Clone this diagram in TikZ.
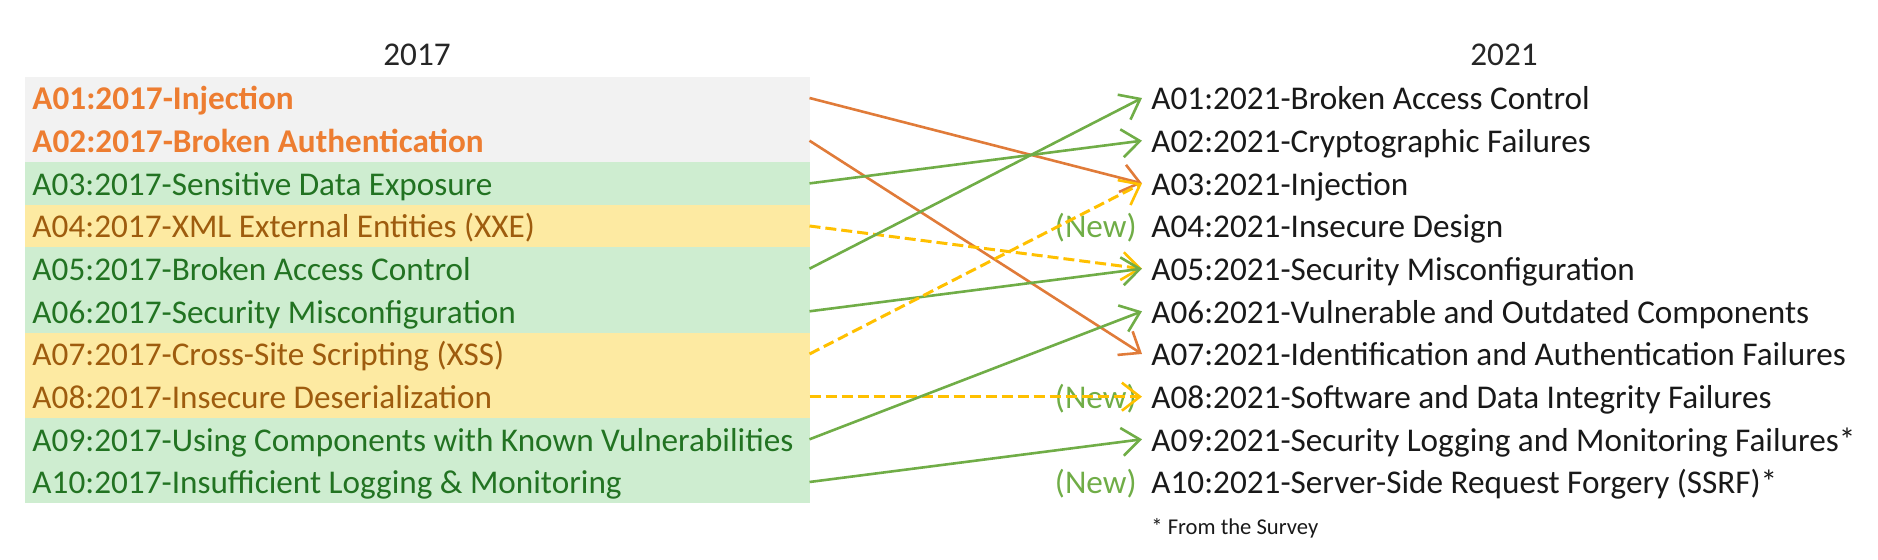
\documentclass[tikz,border=0pt]{standalone}
\usepackage{fontspec}
\setmainfont{Carlito}
\usepackage{tikz}
\usetikzlibrary{arrows.meta}
\usetikzlibrary{positioning}

\definecolor{rowgray}{HTML}{F2F2F2}
\definecolor{rowgreen}{HTML}{CEEDD0}
\definecolor{rowyellow}{HTML}{FDEAA2}
\definecolor{txtorange}{HTML}{ED7D31}
\definecolor{txtgreen}{HTML}{227322}
\definecolor{txtbrown}{HTML}{9E5C0E}
\definecolor{arrorange}{HTML}{E07B39}
\definecolor{arrgreen}{HTML}{70AD47}
\definecolor{arrgold}{HTML}{FFC000}

\begin{document}
\begin{tikzpicture}[
	x=0.5pt, y=-0.5pt,
	every node/.style={font=\fontsize{16.6}{20}\selectfont, text height=14pt, text depth=2pt},
  open tip/.style = {-{Straight Barb[length=9pt, width=14pt, line width=1.3pt]}},
  cell/.style = {anchor=west, minimum width=392.5pt, minimum height=21.33pt,
                 inner xsep=4pt, inner ysep=0pt, outer sep=0pt,
                 execute at begin node={\hbox to 384.5pt\bgroup}, execute at end node={\hfil\egroup}},
  item/.style = {anchor=west, inner xsep=4.5pt, inner ysep=0pt, text=black!90},
  new tag/.style = {inner sep=0pt, text=arrgreen},
  orange arrow/.style = {open tip, draw=arrorange, line width=1.3pt},
  green arrow/.style = {open tip, draw=arrgreen, line width=1.3pt},
  gold arrow/.style = {open tip, draw=arrgold, line width=1.5pt, dash pattern=on 5.5pt off 2.5pt}
  ]
	\useasboundingbox (0,0) rectangle (1878,560);

	\node[anchor=base, text=black!85, text height=, text depth=] (h17) at (417,66) {2017};
	\node[anchor=base, text=black!85, text height=, text depth=] (h21) at (1504,66) {2021};

	\node[cell, fill=rowgray, text=txtorange, font=\fontsize{16.6}{20}\selectfont\bfseries] (l1) at (24.5,98) {A01:2017-Injection};
	\node[cell, fill=rowgray, text=txtorange, font=\fontsize{16.6}{20}\selectfont\bfseries] (l2) at (24.5,140.7) {A02:2017-Broken Authentication};
	\node[cell, fill=rowgreen, text=txtgreen] (l3) at (24.5,183.4) {A03:2017-Sensitive Data Exposure};
	\node[cell, fill=rowyellow, text=txtbrown] (l4) at (24.5,226) {A04:2017-XML External Entities (XXE)};
	\node[cell, fill=rowgreen, text=txtgreen] (l5) at (24.5,268.7) {A05:2017-Broken Access Control};
	\node[cell, fill=rowgreen, text=txtgreen] (l6) at (24.5,311.3) {A06:2017-Security Misconfiguration};
	\node[cell, fill=rowyellow, text=txtbrown] (l7) at (24.5,354) {A07:2017-Cross-Site Scripting (XSS)};
	\node[cell, fill=rowyellow, text=txtbrown] (l8) at (24.5,396.7) {A08:2017-Insecure Deserialization};
	\node[cell, fill=rowgreen, text=txtgreen] (l9) at (24.5,439.3) {A09:2017-Using Components with Known Vulnerabilities};
	\node[cell, fill=rowgreen, text=txtgreen] (l10) at (24.5,482) {A10:2017-Insufficient Logging \& Monitoring};

	\node[item] (r1) at (1142,98) {A01:2021-Broken Access Control};
	\node[item] (r2) at (1142,140.7) {A02:2021-Cryptographic Failures};
	\node[item] (r3) at (1142,183.4) {A03:2021-Injection};
	\node[item] (r4) at (1142,226) {A04:2021-Insecure Design};
	\node[item] (r5) at (1142,268.7) {A05:2021-Security Misconfiguration};
	\node[item] (r6) at (1142,311.3) {A06:2021-Vulnerable and Outdated Components};
	\node[item] (r7) at (1142,354) {A07:2021-Identification and Authentication Failures};
	\node[item] (r8) at (1142,396.7) {A08:2021-Software and Data Integrity Failures};
	\node[item] (r9) at (1142,439.3) {A09:2021-Security Logging and Monitoring Failures*};
	\node[item] (r10) at (1142,482) {A10:2021-Server-Side Request Forgery (SSRF)*};

	\node[new tag, left=2.5pt of r4] (new4) {(New)};
	\node[new tag, left=2.5pt of r8] (new8) {(New)};
	\node[new tag, left=2.5pt of r10] (new10) {(New)};

	\node[anchor=base west, inner sep=0pt, text=black!90, text height=, text depth=, font=\fontsize{11.3}{13}\selectfont] (note) at (1151,535) {* From the Survey};

	\draw[orange arrow] (l1.east) -- (r3.west);
	\draw[orange arrow] (l2.east) -- (r7.west);
	\draw[green arrow] (l3.east) -- (r2.west);
	\draw[gold arrow] (l4.east) -- (r5.west);
	\draw[green arrow] (l5.east) -- (r1.west);
	\draw[green arrow] (l6.east) -- (r5.west);
	\draw[gold arrow] (l7.east) -- (r3.west);
	\draw[gold arrow] (l8.east) -- (r8.west);
	\draw[green arrow] (l9.east) -- (r6.west);
	\draw[green arrow] (l10.east) -- (r9.west);

\end{tikzpicture}
\end{document}
